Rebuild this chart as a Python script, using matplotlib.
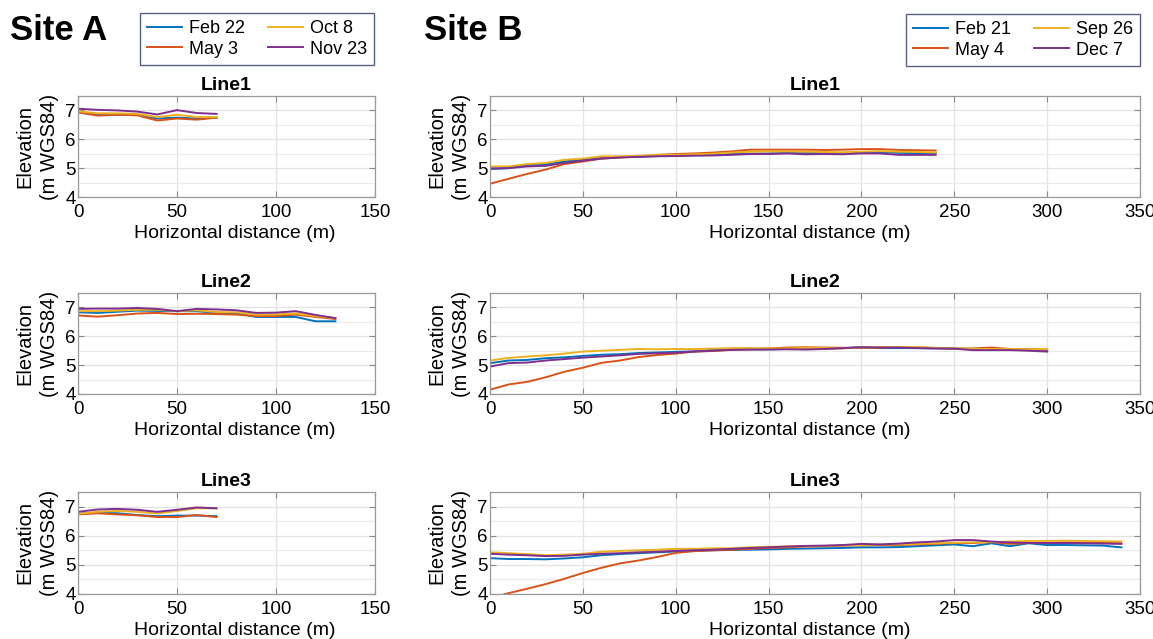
import matplotlib
matplotlib.use('Agg')
import matplotlib.pyplot as plt
import numpy as np

plt.rcParams['font.family'] = ['Liberation Sans', 'DejaVu Sans']

colors = ['#0072BD', '#D95319', '#EDB120', '#7E2F8E']

# Site A
dates_a = ['Feb 22', 'May 3', 'Oct 8', 'Nov 23']
a1_x = list(range(0, 71, 10))
a1_feb = [6.95, 6.85, 6.85, 6.85, 6.72, 6.75, 6.72, 6.75]
a1_may = [6.93, 6.82, 6.85, 6.83, 6.65, 6.72, 6.68, 6.75]
a1_oct = [6.97, 6.90, 6.90, 6.88, 6.77, 6.85, 6.77, 6.77]
a1_nov = [7.06, 7.02, 7.00, 6.96, 6.86, 7.01, 6.91, 6.88]

a2_x = list(range(0, 131, 10))
a2_feb = [6.83, 6.81, 6.85, 6.89, 6.88, 6.87, 6.87, 6.81, 6.80, 6.67, 6.67, 6.67, 6.52, 6.52]
a2_may = [6.72, 6.68, 6.73, 6.79, 6.81, 6.77, 6.78, 6.77, 6.75, 6.70, 6.70, 6.75, 6.67, 6.60]
a2_oct = [6.87, 6.87, 6.89, 6.92, 6.92, 6.87, 6.90, 6.84, 6.83, 6.75, 6.76, 6.79, 6.70, 6.63]
a2_nov = [6.95, 6.96, 6.96, 6.98, 6.95, 6.87, 6.95, 6.93, 6.90, 6.81, 6.82, 6.87, 6.74, 6.63]

a3_x = list(range(0, 71, 10))
a3_feb = [6.75, 6.79, 6.77, 6.71, 6.67, 6.69, 6.69, 6.67]
a3_may = [6.73, 6.77, 6.73, 6.70, 6.64, 6.64, 6.71, 6.64]
a3_oct = [6.75, 6.82, 6.85, 6.82, 6.76, 6.85, 6.94, 6.94]
a3_nov = [6.82, 6.90, 6.92, 6.89, 6.82, 6.89, 6.97, 6.94]

# Site B
dates_b = ['Feb 21', 'May 4', 'Sep 26', 'Dec 7']
b1_x = list(range(0, 241, 10))
b1_feb = [4.97, 5.00, 5.11, 5.13, 5.23, 5.29, 5.35, 5.38, 5.40, 5.42, 5.44, 5.46, 5.47, 5.49,
          5.50, 5.51, 5.52, 5.52, 5.53, 5.53, 5.54, 5.55, 5.53, 5.52, 5.52]
b1_may = [4.46, 4.63, 4.80, 4.95, 5.14, 5.23, 5.33, 5.37, 5.40, 5.46, 5.49, 5.51, 5.54, 5.58,
          5.64, 5.64, 5.64, 5.64, 5.63, 5.64, 5.66, 5.66, 5.63, 5.62, 5.61]
b1_sep = [5.06, 5.06, 5.14, 5.18, 5.29, 5.33, 5.41, 5.41, 5.43, 5.46, 5.46, 5.48, 5.50, 5.54,
          5.57, 5.58, 5.58, 5.57, 5.56, 5.55, 5.57, 5.59, 5.57, 5.56, 5.54]
b1_dec = [4.99, 5.00, 5.06, 5.08, 5.18, 5.26, 5.33, 5.37, 5.39, 5.41, 5.42, 5.43, 5.44, 5.46,
          5.49, 5.49, 5.51, 5.48, 5.49, 5.48, 5.51, 5.51, 5.46, 5.46, 5.46]

b2_x = list(range(0, 301, 10))
b2_feb = [5.07, 5.16, 5.18, 5.24, 5.27, 5.32, 5.36, 5.38, 5.42, 5.44, 5.46, 5.48, 5.53, 5.55,
          5.55, 5.55, 5.56, 5.57, 5.57, 5.59, 5.62, 5.59, 5.59, 5.59, 5.58, 5.58, 5.55, 5.55,
          5.53, 5.52, 5.50]
b2_may = [4.15, 4.33, 4.42, 4.58, 4.77, 4.91, 5.08, 5.16, 5.28, 5.35, 5.40, 5.47, 5.49, 5.53,
          5.55, 5.58, 5.61, 5.62, 5.61, 5.60, 5.60, 5.61, 5.63, 5.62, 5.59, 5.57, 5.58, 5.61,
          5.56, 5.55, 5.54]
b2_sep = [5.16, 5.25, 5.30, 5.34, 5.40, 5.47, 5.50, 5.53, 5.56, 5.55, 5.56, 5.56, 5.57, 5.59,
          5.59, 5.58, 5.58, 5.60, 5.59, 5.58, 5.62, 5.62, 5.63, 5.63, 5.60, 5.58, 5.56, 5.56,
          5.56, 5.55, 5.55]
b2_dec = [4.95, 5.07, 5.09, 5.16, 5.21, 5.26, 5.30, 5.34, 5.39, 5.41, 5.43, 5.47, 5.50, 5.53,
          5.54, 5.54, 5.55, 5.54, 5.56, 5.59, 5.62, 5.61, 5.61, 5.59, 5.58, 5.57, 5.52, 5.52,
          5.52, 5.50, 5.47]

b3_x = list(range(0, 341, 10))
b3_feb = [5.23, 5.20, 5.20, 5.19, 5.22, 5.26, 5.33, 5.37, 5.40, 5.43, 5.46, 5.48, 5.50, 5.51,
          5.52, 5.53, 5.55, 5.56, 5.57, 5.58, 5.60, 5.60, 5.61, 5.64, 5.67, 5.70, 5.64, 5.74,
          5.64, 5.74, 5.68, 5.68, 5.67, 5.66, 5.60]
b3_may = [3.85, 4.03, 4.18, 4.34, 4.52, 4.72, 4.90, 5.05, 5.15, 5.27, 5.41, 5.47, 5.50, 5.52,
          5.55, 5.58, 5.60, 5.63, 5.64, 5.66, 5.67, 5.68, 5.68, 5.70, 5.72, 5.75, 5.75, 5.78,
          5.72, 5.75, 5.75, 5.77, 5.77, 5.76, 5.74]
b3_sep = [5.43, 5.40, 5.37, 5.33, 5.35, 5.38, 5.45, 5.48, 5.50, 5.52, 5.55, 5.55, 5.57, 5.57,
          5.60, 5.62, 5.63, 5.64, 5.65, 5.67, 5.68, 5.70, 5.70, 5.72, 5.74, 5.76, 5.77, 5.78,
          5.80, 5.82, 5.82, 5.83, 5.82, 5.81, 5.80]
b3_dec = [5.38, 5.35, 5.33, 5.30, 5.31, 5.35, 5.38, 5.40, 5.43, 5.45, 5.48, 5.50, 5.52, 5.55,
          5.58, 5.60, 5.63, 5.65, 5.66, 5.68, 5.72, 5.70, 5.73, 5.77, 5.80, 5.85, 5.85, 5.80,
          5.77, 5.75, 5.75, 5.75, 5.74, 5.73, 5.72]

site_a = [(a1_x, [a1_feb, a1_may, a1_oct, a1_nov]),
          (a2_x, [a2_feb, a2_may, a2_oct, a2_nov]),
          (a3_x, [a3_feb, a3_may, a3_oct, a3_nov])]
site_b = [(b1_x, [b1_feb, b1_may, b1_sep, b1_dec]),
          (b2_x, [b2_feb, b2_may, b2_sep, b2_dec]),
          (b3_x, [b3_feb, b3_may, b3_sep, b3_dec])]

W, H = 1153, 639
fig = plt.figure(figsize=(W / 100, H / 100), dpi=100)


def px_axes(left, top, right, bottom):
    return fig.add_axes([left / W, 1 - bottom / H, (right - left) / W, (bottom - top) / H])


def style(ax, xmax, left, right, top, bottom, xlab_cx):
    w = right - left
    h = bottom - top
    ax.set_xlim(0, xmax)
    ax.set_ylim(4, 7.5)
    ax.set_xticks(np.arange(0, xmax + 1, 50))
    ax.set_yticks([4, 5, 6, 7])
    ax.set_yticks([4.5, 5.5, 6.5], minor=True)
    ax.grid(True, which='major', color='#e3e3e3', lw=0.9)
    ax.grid(True, which='minor', axis='y', color='#ebebeb', lw=0.9)
    ax.set_axisbelow(True)
    ax.tick_params(which='both', direction='in', length=4, width=0.8, color='#8a8a8a',
                   labelsize=13.5, top=True, right=True)
    ax.tick_params(axis='x', pad=5)
    ax.tick_params(axis='y', pad=1.5)
    ax.tick_params(which='minor', length=0)
    for s in ax.spines.values():
        s.set_color('#9a9a9a')
        s.set_linewidth(0.9)
    ax.set_xlabel('Horizontal distance (m)', fontsize=14)
    ax.xaxis.set_label_coords((xlab_cx - left) / w, -28 / h)
    ax.set_ylabel('Elevation\n(m WGS84)', fontsize=14.5, linespacing=1.35)
    ax.yaxis.set_label_coords(-19 / w, 0.5)


rows = [(96, 197), (293, 394), (492, 594)]
titles = ['Line1', 'Line2', 'Line3']
leg_kw = dict(ncol=2, loc='center', bbox_transform=fig.transFigure, fontsize=13, frameon=True,
              fancybox=False, handlelength=1.95, columnspacing=1.3, borderpad=0.4,
              labelspacing=0.2, handletextpad=0.35)

for i, (top, bot) in enumerate(rows):
    ax = px_axes(78, top, 375, bot)
    x, ys = site_a[i]
    for y, c, lab in zip(ys, colors, dates_a):
        ax.plot(x, y, color=c, lw=1.4, label=lab)
    style(ax, 150, 78, 375, top, bot, 235)
    ax.set_title(titles[i], fontsize=14, fontweight='bold', pad=4)
    if i == 0:
        leg = ax.legend(bbox_to_anchor=(257 / W, 1 - 39 / H), **leg_kw)
        leg.get_frame().set_edgecolor('#2b3a5c')
        leg.get_frame().set_linewidth(1.0)

    ax = px_axes(490, top, 1140, bot)
    x, ys = site_b[i]
    for y, c, lab in zip(ys, colors, dates_b):
        ax.plot(x, y, color=c, lw=1.4, label=lab)
    style(ax, 350, 490, 1140, top, bot, 810)
    ax.set_title(titles[i], fontsize=14, fontweight='bold', pad=4)
    if i == 0:
        leg = ax.legend(bbox_to_anchor=(1023 / W, 1 - 40 / H), **leg_kw)
        leg.get_frame().set_edgecolor('#2b3a5c')
        leg.get_frame().set_linewidth(1.0)

fig.text(10 / W, 1 - 30 / H, 'Site A', fontsize=25, fontweight='bold', va='center')
fig.text(424 / W, 1 - 30 / H, 'Site B', fontsize=25, fontweight='bold', va='center')

fig.savefig('out.png', dpi=100)
